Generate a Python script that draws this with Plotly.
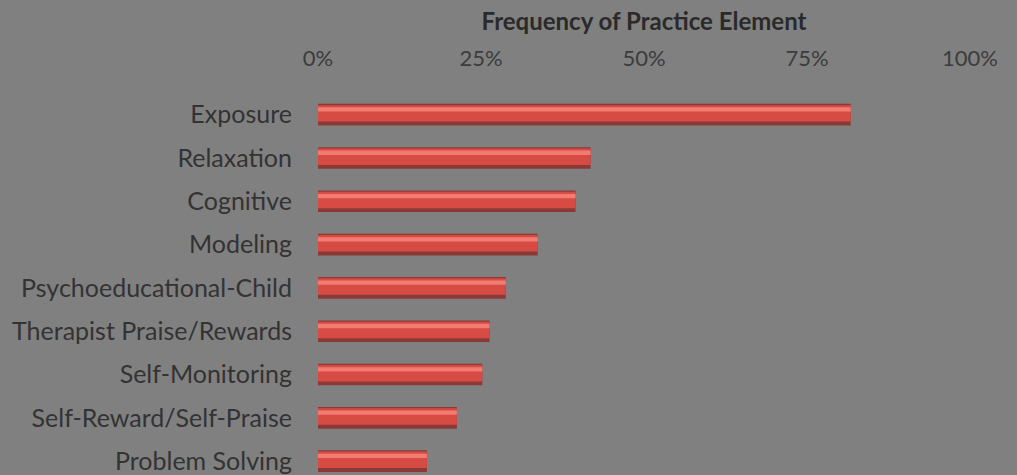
import plotly.graph_objects as go

categories = ["Exposure", "Relaxation", "Cognitive", "Modeling", "Psychoeducational-Child",
              "Therapist Praise/Rewards", "Self-Monitoring", "Self-Reward/Self-Praise", "Problem Solving"]
values = [0.817, 0.418, 0.395, 0.337, 0.288, 0.263, 0.252, 0.213, 0.167]
tick_vals = [0, 0.25, 0.5, 0.75, 1.0]
tick_text = ["0%", "25%", "50%", "75%", "100%"]

FONT = "Lato"
BG = "#808080"

fig = go.Figure()
# shadow / dark body
fig.add_trace(go.Bar(y=categories, x=values, orientation="h", width=0.5,
                     marker=dict(color="#8a3a36", line=dict(width=0)), hoverinfo="skip"))
# main body
fig.add_trace(go.Bar(y=categories, x=values, orientation="h", width=0.38, offset=-0.22,
                     marker=dict(color="#d64c45", line=dict(width=0)), hoverinfo="skip"))
# highlight stripe
fig.add_trace(go.Bar(y=categories, x=values, orientation="h", width=0.1, offset=-0.17,
                     marker=dict(color="#f27b72", line=dict(width=0)),
                     hovertemplate="%{y}: %{x:.0%}<extra></extra>"))

fig.update_layout(
    width=1017, height=475,
    paper_bgcolor=BG, plot_bgcolor=BG,
    barmode="overlay", showlegend=False,
    margin=dict(l=318, r=47, t=93, b=0),
    font=dict(family=FONT, color="#3a3a3a"),
    xaxis=dict(side="top", range=[0, 1.0], tickvals=tick_vals, ticktext=tick_text,
               showgrid=False, zeroline=False, showline=False,
               tickfont=dict(size=22, color="#3c3c3c"), ticklabelstandoff=22,
               title=dict(text="<b>Frequency of Practice Element</b>",
                          font=dict(size=24, color="#2a2a2a"), standoff=6)),
    yaxis=dict(type="category", categoryorder="array", categoryarray=categories,
               range=[8.32, -0.5], showgrid=False, zeroline=False, showline=False,
               tickfont=dict(size=25, color="#333333"), ticklabelstandoff=25),
)

fig.write_html("out.html", config={"displayModeBar": False},
               post_script="document.body.style.margin='0';")
